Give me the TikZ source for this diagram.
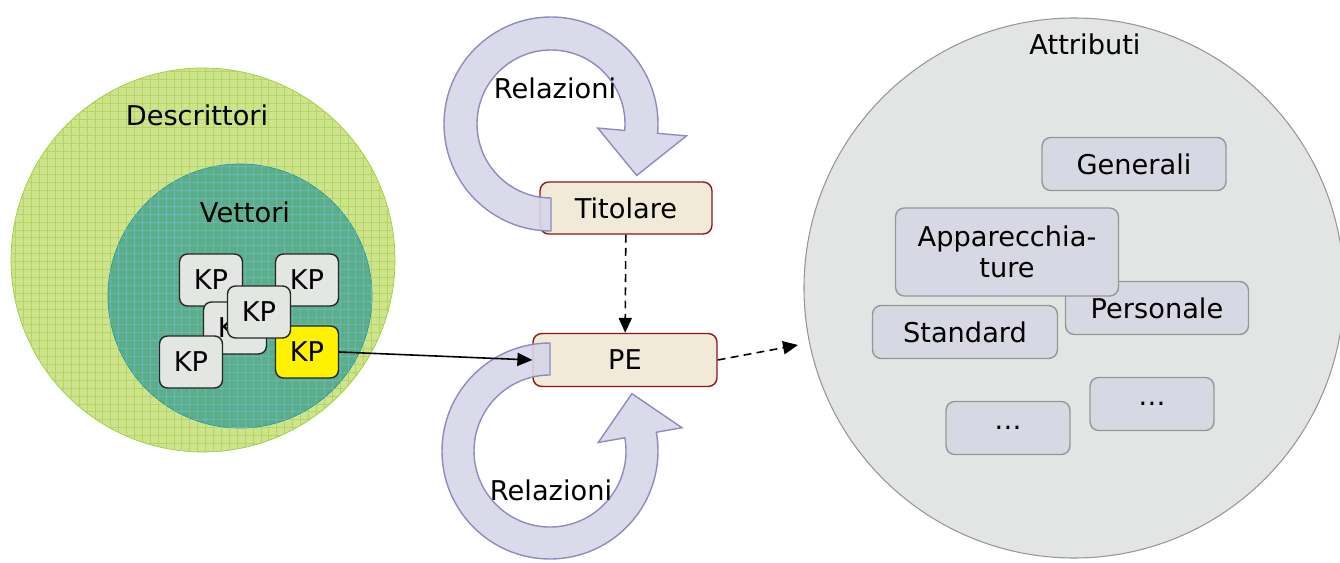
\documentclass[tikz,border=0pt]{standalone}
\usepackage{fontspec}
\setmainfont{DejaVu Sans}
\usetikzlibrary{arrows.meta,patterns.meta}

\definecolor{descfill}{RGB}{206,228,140}
\definecolor{descline}{RGB}{160,204,60}
\definecolor{vetfill}{RGB}{92,174,134}
\definecolor{vetline}{RGB}{40,150,160}
\definecolor{kpgray}{RGB}{228,230,228}
\definecolor{pefill}{RGB}{242,234,216}
\definecolor{peline}{RGB}{140,20,20}
\definecolor{ringfill}{RGB}{214,214,232}
\definecolor{ringline}{RGB}{140,140,190}
\definecolor{attrfill}{RGB}{226,229,227}
\definecolor{boxfill}{RGB}{216,216,228}
\definecolor{boxline}{RGB}{150,150,150}

\tikzset{
  kpbox/.style={draw=black!85, line width=0.8pt, rounded corners=4.5pt,
    minimum width=1.26cm, minimum height=1.04cm, inner sep=0pt},
  pebox/.style={draw=peline, fill=pefill, line width=0.8pt, rounded corners=5pt,
    minimum height=1.04cm, inner sep=0pt},
  attrbox/.style={draw=boxline, fill=boxfill, line width=0.8pt, rounded corners=5pt,
    minimum height=1.06cm, inner sep=0pt, align=center},
  ring/.style={draw=ringline, fill=ringfill, line width=0.8pt, fill opacity=0.9},
  gridfill/.style={postaction={pattern={Hatch[angle=0, distance=4.5pt, line width=0.4pt]},
    pattern color=#1}},
  link/.style={line width=0.9pt, -{Triangle[length=8.5pt,width=7.5pt]}},
  dashlink/.style={link, dash pattern=on 4.5pt off 3pt}
}

\begin{document}
\begin{tikzpicture}[x=0.02cm, y=0.02cm, font=\fontsize{15.5}{18}\selectfont]
  \useasboundingbox (0,0) rectangle (1340,562);

  % descrittori / vettori
  \filldraw[draw=descline, fill=descfill, gridfill=descline!80] (203,302) circle[radius=192];
  \node (desc) at (197,447) {Descrittori};
  \filldraw[draw=vetline, fill=vetfill, gridfill=vetline!70] (240,266) circle[radius=132];
  \node (vet) at (245,350) {Vettori};

  \foreach \n/\x/\y/\c in {a/211/282/kpgray, b/307/282/kpgray, c/235/234/kpgray,
      y/307/210/yellow, d/259/250/kpgray, e/191/200/kpgray} {
    \node[kpbox, fill=\c] (kp\n) at (\x,\y) {KP};
  }

  % titolare, pe
  \node[pebox, minimum width=3.44cm] (tit) at (626,354) {Titolare};
  \node[pebox, minimum width=3.68cm, minimum height=1.06cm] (pe) at (625,202) {PE};

  \begin{scope}[shift={(551,438)}]
    \filldraw[ring] (270:107) arc[start angle=270, end angle=-5, radius=107]
      -- (-5:136) -- (-31:100) -- (-5:47) -- (-5:74)
      arc[start angle=-5, end angle=270, radius=74] -- cycle;
  \end{scope}
  \begin{scope}[shift={(550,111)}]
    \filldraw[ring] (90:108) arc[start angle=90, end angle=370, radius=108]
      -- (10:134) -- (35:100) -- (10:49) -- (10:76)
      arc[start angle=370, end angle=90, radius=76] -- cycle;
  \end{scope}
  \node (relup) at (555,474) {Relazioni};
  \node (reldown) at (551,72) {Relazioni};

  % attributi
  \filldraw[draw=boxline, fill=attrfill, line width=0.6pt] (1074,274) circle[radius=270];
  \node (attr) at (1085,518) {Attributi};
  \node[attrbox, minimum width=3.68cm] (gen) at (1134,398) {Generali};
  \node[attrbox, minimum width=3.66cm] (pers) at (1157,254) {Personale};
  \node[attrbox, minimum width=4.46cm, minimum height=1.76cm] (app) at (1007,310)
    {Apparecchia-\\ture};
  \node[attrbox, minimum width=3.7cm] (std) at (965,230) {Standard};
  \node[attrbox, minimum width=2.48cm] (dotsr) at (1152,158) {\ldots};
  \node[attrbox, minimum width=2.48cm] (dotsl) at (1008,134) {\ldots};

  \coordinate (attrin) at (798,217);
  \draw[link] (kpy.east) -- (pe.west);
  \draw[dashlink] (tit) -- (pe);
  \draw[dashlink] (pe.east) -- (attrin);
\end{tikzpicture}
\end{document}
